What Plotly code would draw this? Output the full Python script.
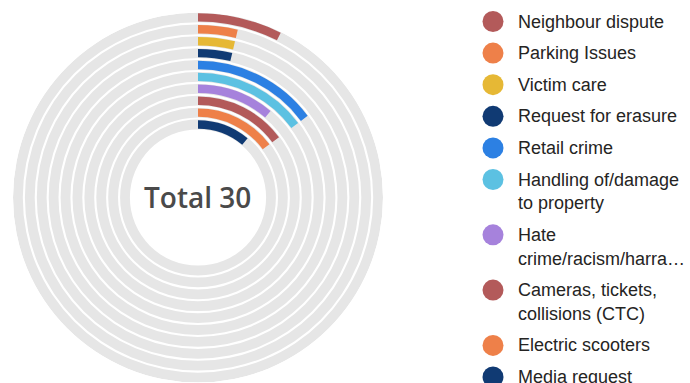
import plotly.graph_objects as go

# ---- data ----
categories = ["Neighbour dispute", "Parking Issues", "Victim care", "Request for erasure",
              "Retail crime", "Handling of/damage to property", "Hate crime/racism/harrassment",
              "Cameras, tickets, collisions (CTC)", "Electric scooters", "Media request"]
legend_lines = [["Neighbour dispute"], ["Parking Issues"], ["Victim care"], ["Request for erasure"],
                ["Retail crime"], ["Handling of/damage", "to property"], ["Hate", "crime/racism/harra\u2026"],
                ["Cameras, tickets,", "collisions (CTC)"], ["Electric scooters"], ["Media request"]]
values = [2, 1, 1, 1, 4, 4, 3, 4, 4, 3]
colors = ["#B35A5A", "#EE8049", "#E6B835", "#103A73", "#2C80E3",
          "#5CC1E2", "#A682DC", "#B35A5A", "#EE8049", "#103A73"]
total_label = "Total 30"
scale_max = 27  # value that would fill a full ring

W, H = 690, 383
fig = go.Figure()

deg_per_unit = 360.0 / scale_max
R_OUT = 185.0
PITCH = 11.9
GREY_T = 9.8
BAR_T = 8.4

for i, (cat, v, c) in enumerate(zip(categories, values, colors)):
    outer = R_OUT - PITCH * i
    fig.add_trace(go.Barpolar(
        r=[GREY_T], base=[outer - GREY_T], theta=[180], width=[360],
        marker=dict(color="#E6E6E6", line=dict(width=0)),
        showlegend=False, hoverinfo="skip"))
for i, (cat, v, c) in enumerate(zip(categories, values, colors)):
    outer = R_OUT - PITCH * i
    fig.add_trace(go.Barpolar(
        r=[BAR_T], base=[outer - GREY_T + (GREY_T - BAR_T) / 2],
        theta=[v * deg_per_unit / 2], width=[v * deg_per_unit],
        marker=dict(color=c, line=dict(width=0)),
        name=cat, showlegend=False,
        hovertemplate=cat + ": %{customdata}<extra></extra>", customdata=[v]))

# legend built manually
annotations = []
shapes = []
y = 21.5
for lines, c in zip(legend_lines, colors):
    yp = 1 - y / H
    shapes.append(dict(type="circle", xref="paper", yref="paper",
                       xsizemode="pixel", ysizemode="pixel",
                       xanchor=493 / W, yanchor=yp,
                       x0=-10.5, x1=10.5, y0=-10.5, y1=10.5,
                       fillcolor=c, line=dict(width=0)))
    for k, ln in enumerate(lines):
        annotations.append(dict(text=ln, xref="paper", yref="paper",
                                x=516 / W, y=1 - (y + 23.7 * k) / H,
                                xanchor="left", yanchor="middle", showarrow=False,
                                font=dict(family="Liberation Sans, Arial", size=18, color="#252423")))
    y += 31.6 + 23.7 * (len(lines) - 1)

annotations.append(dict(text=total_label, xref="paper", yref="paper",
                        x=197 / W, y=1 - 197 / H, xanchor="center", yanchor="middle",
                        showarrow=False,
                        font=dict(family="Open Sans", size=28, color="#4A4A4A", weight=600)))

fig.update_layout(
    width=W, height=H, margin=dict(l=0, r=0, t=0, b=0),
    paper_bgcolor="white", plot_bgcolor="white",
    polar=dict(
        domain=dict(x=[13 / W, 383 / W], y=[0.0, 1 - 12 / H]),
        bgcolor="white",
        radialaxis=dict(range=[0, R_OUT], visible=False, showgrid=False),
        angularaxis=dict(rotation=90, direction="clockwise", visible=False, showgrid=False),
    ),
    annotations=annotations, shapes=shapes, showlegend=False,
)

fig.write_html("out.html")
